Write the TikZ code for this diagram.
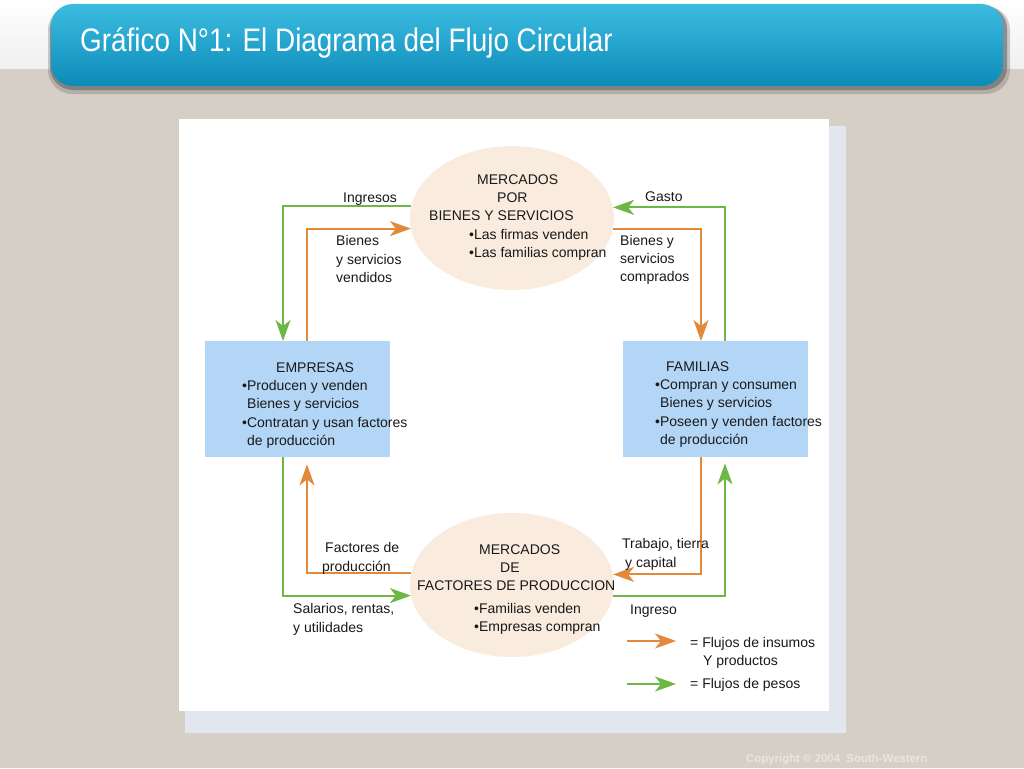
\documentclass[tikz,border=0pt]{standalone}
\usepackage{fontspec}
\setmainfont{Liberation Sans}
\newfontfamily\titlefont[FakeStretch=0.855]{Liberation Sans}
\usetikzlibrary{shapes.geometric,arrows.meta}
\definecolor{bgtaupe}{HTML}{D6CFC5}
\definecolor{barcyan}{HTML}{1AA3CF}
\definecolor{bartop}{HTML}{3DBCE2}
\definecolor{barbot}{HTML}{0B8BB7}
\definecolor{panelsh}{HTML}{E2E6EE}
\definecolor{ellfill}{HTML}{F9ECDE}
\definecolor{boxfill}{HTML}{B3D6F7}
\definecolor{grn}{HTML}{6DB844}
\definecolor{org}{HTML}{E3893B}
\definecolor{copy}{HTML}{EBE6DF}
\tikzset{
  txt/.style={font=\fontsize{14}{17}\selectfont, anchor=west, inner sep=0pt, text height=10pt, text depth=0pt, text=black!90},
  arr/.style={-{Stealth[length=21pt,width=15pt,inset=6pt]}},
  gline/.style={draw=grn, line width=1.8pt, arr, color=grn},
  oline/.style={draw=org, line width=1.8pt, arr, color=org},
  market/.style={ellipse, fill=ellfill, draw=none, inner sep=0pt, minimum width=204pt, minimum height=144pt},
  agent/.style={rectangle, fill=boxfill, draw=none, inner sep=0pt, minimum width=185pt, minimum height=116pt, anchor=north west},
}
\begin{document}
\begin{tikzpicture}[x=1pt,y=-1pt]
\useasboundingbox (0,0) rectangle (1024,768);
% background
\fill[bgtaupe] (0,0) rectangle (1024,768);
\shade[top color=white, bottom color=white!94!black] (0,0) rectangle (1024,68);
% title bar
\fill[black!55, opacity=0.35, rounded corners=24pt] (48,6) rectangle (1010,94);
\fill[black!60, opacity=0.6, rounded corners=23pt] (50,6) rectangle (1007,90);
\shade[top color=bartop, bottom color=barbot, rounded corners=22pt] (51,4) rectangle (1003,86);
\node[font=\titlefont\fontsize{32.6}{37}\selectfont, text=white, anchor=west, inner sep=0pt] (title) at (80,43) {Gráfico N°1: El Diagrama del Flujo Circular};
% panel
\fill[panelsh] (185,126) rectangle (846,733);
\fill[white] (179,119) rectangle (829,711);
% main nodes
\node[market] (mT) at (512,218) {};
\node[market] (mB) at (512,585) {};
\node[agent] (emp) at (205,341) {};
\node[agent] (fam) at (623,341) {};
% track coordinates
\coordinate (gL) at (283,0);
\coordinate (oL) at (307,0);
\coordinate (oR) at (701,0);
\coordinate (gR) at (725,0);
% connectors top
\draw[gline] (mT.173.2) -| (emp.north -| gL);
\draw[gline] (fam.north -| gR) |- (mT.6.8);
\draw[oline] (emp.north -| oL) |- (mT.186.8);
\draw[oline] (mT.-6.8) -| (fam.north -| oR);
% connectors bottom
\draw[oline] (fam.south -| oR) |- (mB.6.23);
\draw[oline] (mB.173.77) -| ([yshift=-7pt]emp.south -| oL);
\draw[gline] (emp.south -| gL) |- (mB.186.8);
\draw[gline] (mB.-6.8) -| ([yshift=-6pt]fam.south -| gR);
% legend
\coordinate (lo1) at (627,641);
\coordinate (lo2) at (676,641);
\coordinate (lg1) at (627,684);
\coordinate (lg2) at (676,684);
\draw[oline] (lo1) -- (lo2);
\draw[gline] (lg1) -- (lg2);
\node[txt] (leg1) at (690,642) {= Flujos de insumos};
\node[txt] (leg2) at (703,660) {Y productos};
\node[txt] (leg3) at (690,683) {= Flujos de pesos};
% top market text
\node[txt] (t1) at (477,179) {MERCADOS};
\node[txt] (t2) at (497,197) {POR};
\node[txt] (t3) at (429,215) {BIENES Y SERVICIOS};
\node[txt] (t4) at (469,234) {•Las firmas venden};
\node[txt] (t5) at (469,252) {•Las familias compran};
\node[txt] (ing) at (343,197) {Ingresos};
\node[txt] (gas) at (645,196) {Gasto};
\node[txt] (bv1) at (336,240) {Bienes};
\node[txt] (bv2) at (336,259) {y servicios};
\node[txt] (bv3) at (336,277) {vendidos};
\node[txt] (bc1) at (620,240) {Bienes y};
\node[txt] (bc2) at (620,258) {servicios};
\node[txt] (bc3) at (620,276) {comprados};
% empresas
\node[txt] (e1) at (276,367) {EMPRESAS};
\node[txt] (e2) at (242,385) {•Producen y venden};
\node[txt] (e3) at (247,403) {Bienes y servicios};
\node[txt] (e4) at (242,422) {•Contratan y usan factores};
\node[txt] (e5) at (247,440) {de producción};
% familias
\node[txt] (f1) at (666,366) {FAMILIAS};
\node[txt] (f2) at (655,384) {•Compran y consumen};
\node[txt] (f3) at (660,402) {Bienes y servicios};
\node[txt] (f4) at (655,421) {•Poseen y venden factores};
\node[txt] (f5) at (660,439) {de producción};
% bottom market text
\node[txt] (b1) at (479,549) {MERCADOS};
\node[txt] (b2) at (500,567) {DE};
\node[txt] (b3) at (417,585) {FACTORES DE PRODUCCION};
\node[txt] (b4) at (474,608) {•Familias venden};
\node[txt] (b5) at (474,626) {•Empresas compran};
\node[txt] (fp1) at (325,547) {Factores de};
\node[txt] (fp2) at (322,566) {producción};
\node[txt] (tt1) at (622,543) {Trabajo, tierra};
\node[txt] (tt2) at (625,562) {y capital};
\node[txt] (sr1) at (293,608) {Salarios, rentas,};
\node[txt] (sr2) at (293,627) {y utilidades};
\node[txt] (ingr) at (630,609) {Ingreso};
% copyright
\node[font=\bfseries\fontsize{11.4}{13}\selectfont, text=copy, anchor=west, inner sep=0pt] (cpy) at (746,760) {Copyright © 2004\ \ South-Western};
\end{tikzpicture}
\end{document}
